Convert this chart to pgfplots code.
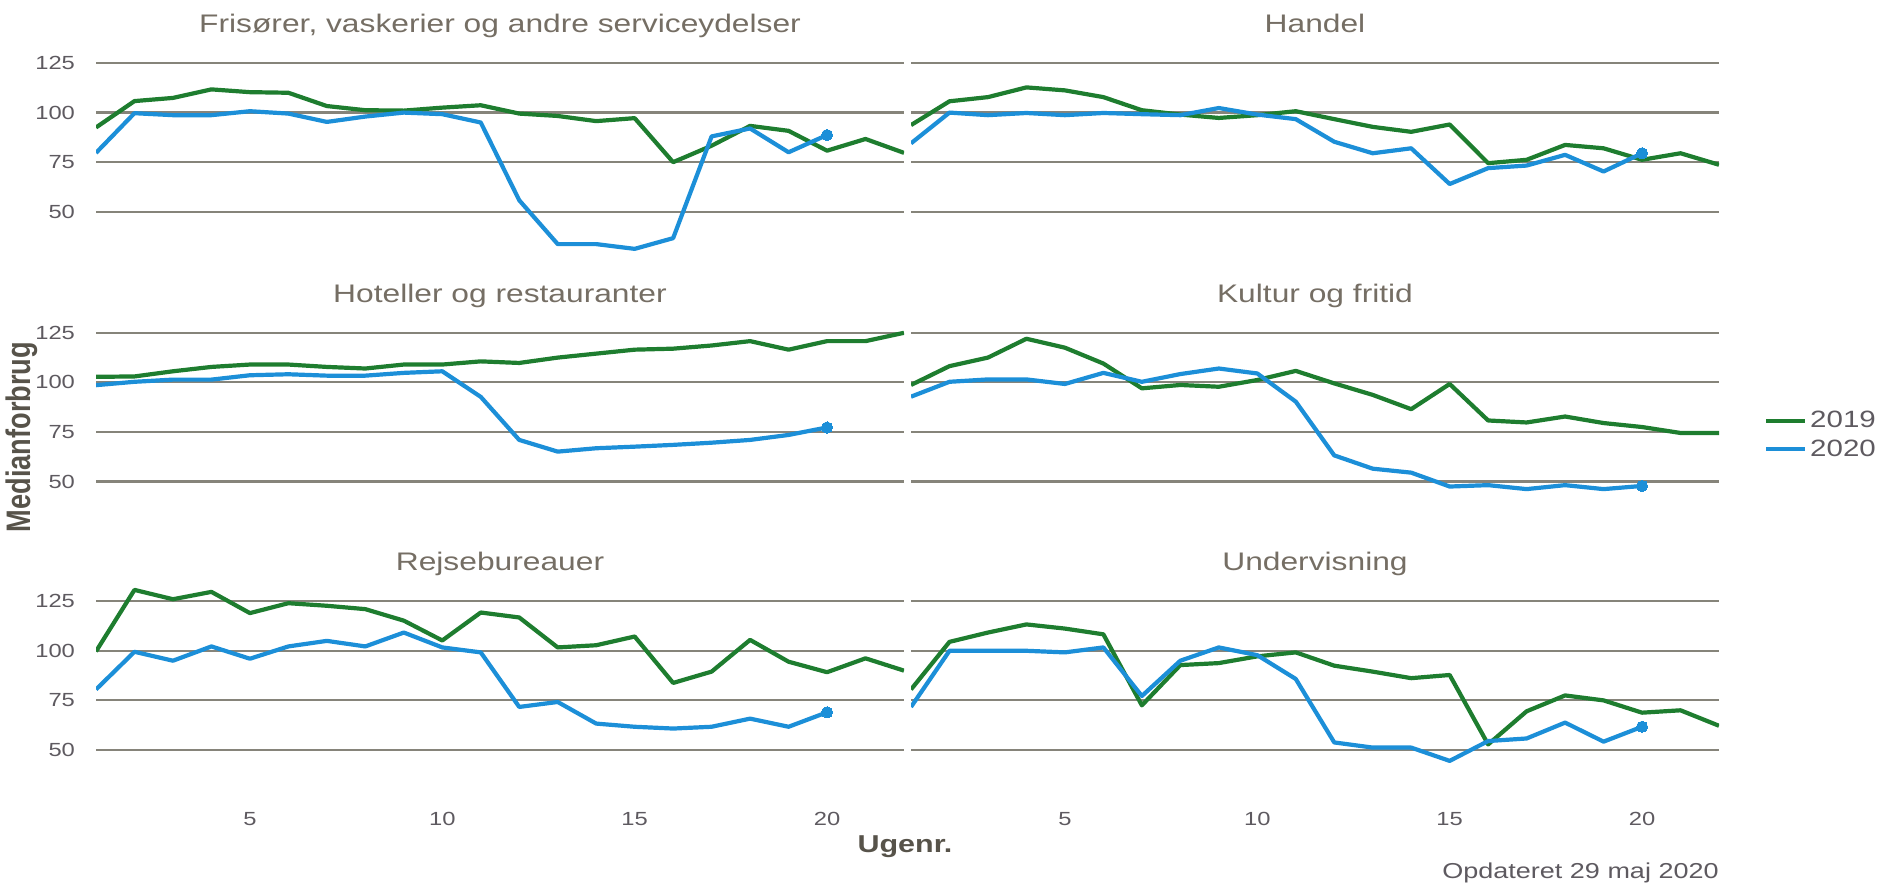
\documentclass[border=0pt]{standalone}
\usepackage{fontspec}
\setmainfont{Liberation Sans}[FakeStretch=1.25]
\newfontfamily\rotfont{Liberation Sans}
\usepackage{graphicx}
\usepackage{pgfplots}
\pgfplotsset{compat=1.18}

\definecolor{c19}{HTML}{1E7D2F}
\definecolor{c20}{HTML}{1C8FD8}
\definecolor{gridc}{HTML}{86847A}
\definecolor{titlec}{HTML}{756E64}
\definecolor{tickc}{HTML}{5E5A60}
\definecolor{labc}{HTML}{57534A}

\pgfplotsset{
  panel/.style={
    scale only axis, width=404pt, height=108.5pt,
    anchor=south west,
    xmin=1, xmax=22, ymin=26.3, ymax=135.7,
    axis line style={draw=none}, major tick length=0pt,
    xtick={5,10,15,20}, ytick={50,75,100,125},
    ymajorgrids, grid style={gridc, line width=1.1pt},
    /pgf/number format/assume math mode=true,
    ticklabel style={font=\fontsize{9.5}{11}\selectfont, text=tickc},
    yticklabel style={xshift=-7pt},
    xticklabel style={yshift=-4pt},
    title style={at={(0.5,1)}, anchor=base, yshift=-1.5pt,
      font=\fontsize{12.7}{14}\selectfont, text=titlec},
  },
  noy/.style={yticklabels={}},
  nox/.style={xticklabels={}},
  s19/.style={c19, line width=2.1pt, line join=round, no markers},
  s20/.style={c20, line width=2.1pt, line join=round, mark=*, mark indices={20}, mark size=2.8pt, mark options={solid, fill=c20, draw=c20, line width=0pt}},
}

\begin{document}
\begin{tikzpicture}
\useasboundingbox (0,0) rectangle (948.5pt,443pt);

% row 1
\begin{axis}[panel, nox, at={(48pt,313.6pt)}, title={Frisører, vaskerier og andre serviceydelser}]
\addplot[s19] coordinates {(1,92.5) (2,105.8) (3,107.4) (4,111.7) (5,110.3) (6,110) (7,103.3) (8,101.2) (9,101) (10,102.5) (11,103.7) (12,99.5) (13,98.3) (14,95.7) (15,97.2) (16,75) (17,83.3) (18,93.3) (19,90.8) (20,80.8) (21,86.7) (22,79.7)};
\addplot[s20] coordinates {(1,79.7) (2,99.7) (3,98.7) (4,98.7) (5,100.7) (6,99.5) (7,95.3) (8,98) (9,100) (10,99.2) (11,95) (12,55.8) (13,33.7) (14,33.7) (15,31.3) (16,36.7) (17,88) (18,92) (19,80) (20,88.7)};
\end{axis}
\begin{axis}[panel, nox, noy, at={(455.5pt,313.6pt)}, title={Handel}]
\addplot[s19] coordinates {(1,93.7) (2,105.7) (3,107.8) (4,112.7) (5,111.2) (6,107.8) (7,101.2) (8,99) (9,97.3) (10,98.7) (11,100.7) (12,96.7) (13,92.8) (14,90.3) (15,94) (16,74.5) (17,76.2) (18,83.7) (19,82) (20,76.2) (21,79.5) (22,73.7)};
\addplot[s20] coordinates {(1,84.5) (2,100) (3,98.7) (4,99.8) (5,98.7) (6,99.8) (7,99.2) (8,98.7) (9,102.3) (10,99) (11,96.7) (12,85.3) (13,79.5) (14,82) (15,64) (16,72) (17,73.3) (18,78.7) (19,70.3) (20,79.5)};
\end{axis}

% row 2
\begin{axis}[panel, nox, at={(48pt,178.7pt)}, title={Hoteller og restauranter}]
\addplot[s19] coordinates {(1,102.8) (2,103) (3,105.6) (4,107.8) (5,109) (6,109) (7,107.8) (8,107) (9,109) (10,109) (11,110.6) (12,109.8) (13,112.5) (14,114.5) (15,116.5) (16,117) (17,118.6) (18,120.8) (19,116.5) (20,120.8) (21,120.8) (22,125)};
\addplot[s20] coordinates {(1,98.6) (2,100.3) (3,101.4) (4,101.4) (5,103.6) (6,104.1) (7,103.4) (8,103.4) (9,104.8) (10,105.6) (11,92.7) (12,71) (13,65.1) (14,66.8) (15,67.6) (16,68.5) (17,69.6) (18,71) (19,73.5) (20,77.3)};
\end{axis}
\begin{axis}[panel, nox, noy, at={(455.5pt,178.7pt)}, title={Kultur og fritid},
  legend style={at={(1.0557,0.431)}, anchor=west, draw=none, fill=none,
    inner sep=0pt, outer sep=0pt, row sep=1.5pt,
    font=\fontsize{11.8}{13}\selectfont, text=tickc,
    nodes={inner sep=1.5pt}},
  legend cell align=left,
  legend image code/.code={\draw[#1] (0pt,0pt) -- (19.5pt,0pt);}]
\addplot[s19] coordinates {(1,98.7) (2,108.2) (3,112.5) (4,122) (5,117.5) (6,109.5) (7,97) (8,98.7) (9,97.8) (10,101.2) (11,105.8) (12,99.5) (13,93.7) (14,86.5) (15,99.2) (16,80.8) (17,79.8) (18,82.8) (19,79.5) (20,77.5) (21,74.5) (22,74.5)};
\addlegendentry{2019}
\addplot[s20] coordinates {(1,92.8) (2,100.3) (3,101.5) (4,101.5) (5,99.2) (6,104.8) (7,100.3) (8,104.2) (9,107) (10,104.5) (11,90.3) (12,63.2) (13,56.5) (14,54.5) (15,47.5) (16,48.2) (17,46.2) (18,48.2) (19,46.2) (20,47.8)};
\addlegendentry{2020}
\end{axis}

% row 3
\begin{axis}[panel, at={(48pt,44.5pt)}, title={Rejsebureauer}]
\addplot[s19] coordinates {(1,99.7) (2,130.7) (3,126) (4,129.7) (5,119) (6,124) (7,122.7) (8,121) (9,115.2) (10,105.2) (11,119.3) (12,116.8) (13,101.7) (14,102.8) (15,107.2) (16,83.8) (17,89.5) (18,105.5) (19,94.5) (20,89.2) (21,96.2) (22,90)};
\addplot[s20] coordinates {(1,80.5) (2,99.5) (3,95) (4,102.2) (5,96) (6,102.2) (7,105) (8,102.2) (9,109.2) (10,101.7) (11,99.2) (12,71.7) (13,74.2) (14,63.3) (15,61.7) (16,60.8) (17,61.7) (18,65.8) (19,61.7) (20,69)};
\end{axis}
\begin{axis}[panel, noy, at={(455.5pt,44.5pt)}, title={Undervisning}]
\addplot[s19] coordinates {(1,80.5) (2,104.5) (3,109.2) (4,113.3) (5,111.2) (6,108.3) (7,72.5) (8,92.8) (9,93.8) (10,97.2) (11,99.2) (12,92.5) (13,89.5) (14,86.2) (15,87.8) (16,52.8) (17,69.5) (18,77.5) (19,75) (20,68.8) (21,70) (22,62.2)};
\addplot[s20] coordinates {(1,71.7) (2,100) (3,100) (4,100) (5,99.2) (6,101.7) (7,77.2) (8,95) (9,101.7) (10,97.8) (11,85.8) (12,53.8) (13,51.2) (14,51.2) (15,44.5) (16,54.5) (17,55.8) (18,63.8) (19,54.2) (20,61.7)};
\end{axis}

\node[text=labc, font=\bfseries\fontsize{12.2}{14}\selectfont] at (452.5pt,19.5pt) {Ugenr.};
\node[text=tickc, anchor=east, inner sep=0pt, font=\fontsize{10.8}{12}\selectfont] at (859.5pt,6.5pt) {Opdateret 29 maj 2020};
\node[text=labc, rotate=90, font=\rotfont\bfseries\fontsize{13.6}{15}\selectfont] at (11pt,224.5pt) {\scalebox{1}[1.25]{Medianforbrug}};
\end{tikzpicture}
\end{document}
